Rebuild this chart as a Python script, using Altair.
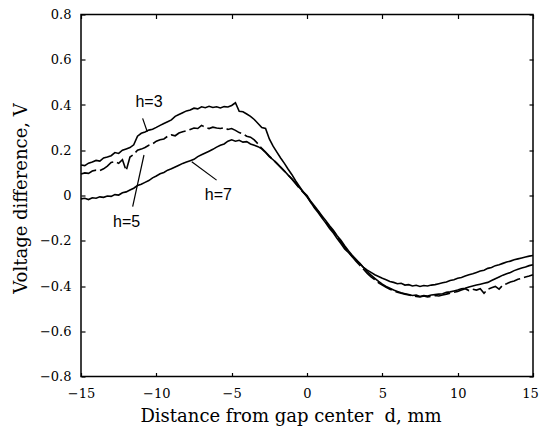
import altair as alt
import pandas as pd

# sampling grid of distance d (mm)
x_vals = [-15.0 + 0.25 * i for i in range(121)]

h3 = [
    0.135, 0.132, 0.143, 0.148, 0.155, 0.152, 0.166, 0.170,
    0.176, 0.190, 0.186, 0.200, 0.206, 0.212, 0.224, 0.262,
    0.275, 0.281, 0.289, 0.293, 0.301, 0.310, 0.318, 0.326,
    0.334, 0.350, 0.358, 0.366, 0.374, 0.378, 0.386, 0.383,
    0.392, 0.388, 0.394, 0.389, 0.392, 0.387, 0.393, 0.391,
    0.398, 0.410, 0.372, 0.370, 0.360, 0.350, 0.336, 0.318,
    0.300, 0.296, 0.250, 0.218, 0.192, 0.166, 0.142, 0.116,
    0.092, 0.064, 0.040, 0.016, -0.006, -0.030, -0.055, -0.076,
    -0.100, -0.122, -0.146, -0.166, -0.190, -0.212, -0.236, -0.252,
    -0.270, -0.286, -0.300, -0.318, -0.330, -0.340, -0.350, -0.358,
    -0.366, -0.372, -0.380, -0.384, -0.390, -0.388, -0.396, -0.394,
    -0.400, -0.397, -0.402, -0.398, -0.400, -0.396, -0.394, -0.390,
    -0.386, -0.382, -0.376, -0.372, -0.366, -0.362, -0.356, -0.350,
    -0.346, -0.340, -0.334, -0.330, -0.322, -0.318, -0.310, -0.306,
    -0.300, -0.294, -0.290, -0.284, -0.280, -0.276, -0.272, -0.268,
    -0.265,
]

h5 = [
    0.095, 0.100, 0.098, 0.108, 0.112, 0.110, 0.118, 0.130,
    0.146, 0.150, 0.142, 0.158, 0.110, 0.170, 0.182, 0.200,
    0.205, 0.212, 0.222, 0.228, 0.240, 0.246, 0.250, 0.262,
    0.268, 0.264, 0.276, 0.282, 0.286, 0.292, 0.298, 0.296,
    0.310, 0.302, 0.296, 0.302, 0.298, 0.296, 0.300, 0.292,
    0.296, 0.288, 0.278, 0.272, 0.262, 0.258, 0.246, 0.228,
    0.208, 0.192, 0.174, 0.158, 0.142, 0.124, 0.108, 0.090,
    0.072, 0.052, 0.032, 0.014, -0.004, -0.030, -0.052, -0.070,
    -0.096, -0.118, -0.140, -0.158, -0.182, -0.204, -0.228, -0.248,
    -0.270, -0.290, -0.308, -0.326, -0.344, -0.360, -0.372, -0.386,
    -0.396, -0.406, -0.414, -0.420, -0.428, -0.432, -0.436, -0.440,
    -0.444, -0.446, -0.448, -0.444, -0.448, -0.446, -0.442, -0.444,
    -0.440, -0.436, -0.432, -0.428, -0.424, -0.418, -0.412, -0.420,
    -0.414, -0.418, -0.412, -0.432, -0.414, -0.408, -0.402, -0.414,
    -0.396, -0.390, -0.382, -0.378, -0.370, -0.366, -0.360, -0.356,
    -0.350,
]

h7 = [
    -0.015, -0.012, -0.018, -0.010, -0.012, -0.006, -0.008, -0.002,
    -0.004, 0.004, 0.002, 0.012, 0.016, 0.024, 0.032, 0.044,
    0.050, 0.058, 0.066, 0.078, 0.086, 0.096, 0.102, 0.112,
    0.118, 0.126, 0.134, 0.142, 0.148, 0.154, 0.160, 0.172,
    0.180, 0.188, 0.196, 0.204, 0.214, 0.222, 0.228, 0.240,
    0.246, 0.240, 0.244, 0.236, 0.238, 0.228, 0.222, 0.216,
    0.206, 0.190, 0.172, 0.158, 0.142, 0.126, 0.108, 0.090,
    0.074, 0.054, 0.034, 0.016, 0.000, -0.026, -0.046, -0.068,
    -0.090, -0.112, -0.134, -0.154, -0.178, -0.198, -0.222, -0.244,
    -0.264, -0.282, -0.300, -0.318, -0.336, -0.352, -0.366, -0.380,
    -0.392, -0.402, -0.410, -0.418, -0.424, -0.430, -0.434, -0.438,
    -0.442, -0.440, -0.446, -0.442, -0.444, -0.440, -0.438, -0.436,
    -0.434, -0.428, -0.426, -0.422, -0.418, -0.412, -0.410, -0.404,
    -0.400, -0.396, -0.392, -0.388, -0.384, -0.376, -0.368, -0.360,
    -0.352, -0.346, -0.340, -0.332, -0.326, -0.320, -0.316, -0.310,
    -0.306,
]

series_names = ["h=3", "h=5", "h=7"]

label_text = ["h=3", "h=5", "h=7"]
label_x = [-10.49, -11.97, -5.88]
label_y = [0.415, -0.119, 0.004]

leader_x1 = [-10.91, -11.57, -7.65]
leader_y1 = [0.341, -0.049, 0.149]
leader_x2 = [-10.60, -10.82, -6.00]
leader_y2 = [0.282, 0.179, 0.068]

x_ticks = [-15, -10, -5, 0, 5, 10, 15]
y_ticks = [-0.8, -0.6, -0.4, -0.2, 0.0, 0.2, 0.4, 0.6, 0.8]

rows = []
for name, ys in zip(series_names, [h3, h5, h7]):
    for xv, yv in zip(x_vals, ys):
        rows.append({"d": xv, "v": yv, "series": name})
df = pd.DataFrame(rows)

labels_df = pd.DataFrame({"t": label_text, "x": label_x, "y": label_y})
leaders_df = pd.DataFrame({"x1": leader_x1, "y1": leader_y1, "x2": leader_x2, "y2": leader_y2})

xs = alt.Scale(domain=[-15, 15], nice=False, zero=False)
ys = alt.Scale(domain=[-0.8, 0.8], nice=False, zero=False)

tick_common = dict(offset=-4, tickSize=4, tickWidth=1.2, tickColor="black",
                   domain=False, grid=False)

x_axis = alt.Axis(orient="bottom", values=x_ticks, labelFont="DejaVu Serif",
                  labelFontSize=13, labelColor="black", labelPadding=11,
                  labelOverlap=False, labelFlush=False,
                  labelOffset={"condition": {"test": "datum.value == 15", "value": -3},
                               "value": 0},
                  title="Distance from gap center\u00a0 d, mm",
                  titleFont="DejaVu Serif", titleFontSize=18,
                  titleFontWeight="normal", titleColor="black",
                  titleX=209.5, titleY=48.5, titleBaseline="alphabetic",
                  titleAlign="center", **tick_common)

y_axis = alt.Axis(orient="left", values=y_ticks, labelFont="DejaVu Serif",
                  labelFontSize=13, labelColor="black", labelPadding=10,
                  labelOverlap=False, labelFlush=False,
                  labelExpr="datum.value == 0 ? '0' : format(datum.value, '.1f')",
                  title="Voltage difference, V",
                  titleFont="DejaVu Serif", titleFontSize=18,
                  titleFontWeight="normal", titleColor="black",
                  titleAngle=270, titleX=-59, titleY=183.5,
                  titleBaseline="alphabetic", titleAlign="center", **tick_common)

x_axis_top = alt.Axis(orient="top", values=x_ticks, labels=False, title=None, **tick_common)
y_axis_right = alt.Axis(orient="right", values=y_ticks, labels=False, title=None, **tick_common)

solid = alt.Chart(df).transform_filter(
    alt.FieldOneOfPredicate(field="series", oneOf=["h=3", "h=7"])
).mark_line(color="black", strokeWidth=1.6).encode(
    x=alt.X("d:Q", scale=xs, axis=x_axis),
    y=alt.Y("v:Q", scale=ys, axis=y_axis),
    detail="series:N",
    order="d:Q",
)

dashed = alt.Chart(df).transform_filter(
    alt.FieldEqualPredicate(field="series", equal="h=5")
).mark_line(color="black", strokeWidth=1.6, strokeDash=[16, 4]).encode(
    x=alt.X("d:Q", scale=xs, axis=None),
    y=alt.Y("v:Q", scale=ys, axis=None),
    order="d:Q",
)

leaders = alt.Chart(leaders_df).mark_rule(color="black", strokeWidth=1.2).encode(
    x=alt.X("x1:Q", scale=xs, axis=None),
    y=alt.Y("y1:Q", scale=ys, axis=None),
    x2="x2:Q",
    y2="y2:Q",
)

texts = alt.Chart(labels_df).mark_text(font="Liberation Sans", fontSize=16,
                                       color="black", align="center",
                                       baseline="middle").encode(
    x=alt.X("x:Q", scale=xs, axis=x_axis_top),
    y=alt.Y("y:Q", scale=ys, axis=y_axis_right),
    text="t:N",
)

chart = alt.layer(solid, dashed, leaders, texts).resolve_axis(
    x="independent", y="independent"
).properties(
    width=452,
    height=362,
    padding={"left": 73, "top": 6.5, "right": 6, "bottom": 49.5},
    autosize=alt.AutoSizeParams(type="none"),
    background="white",
).configure_view(stroke="black", strokeWidth=1.5)

chart.save("out.html", embed_options={"renderer": "svg", "actions": False})
